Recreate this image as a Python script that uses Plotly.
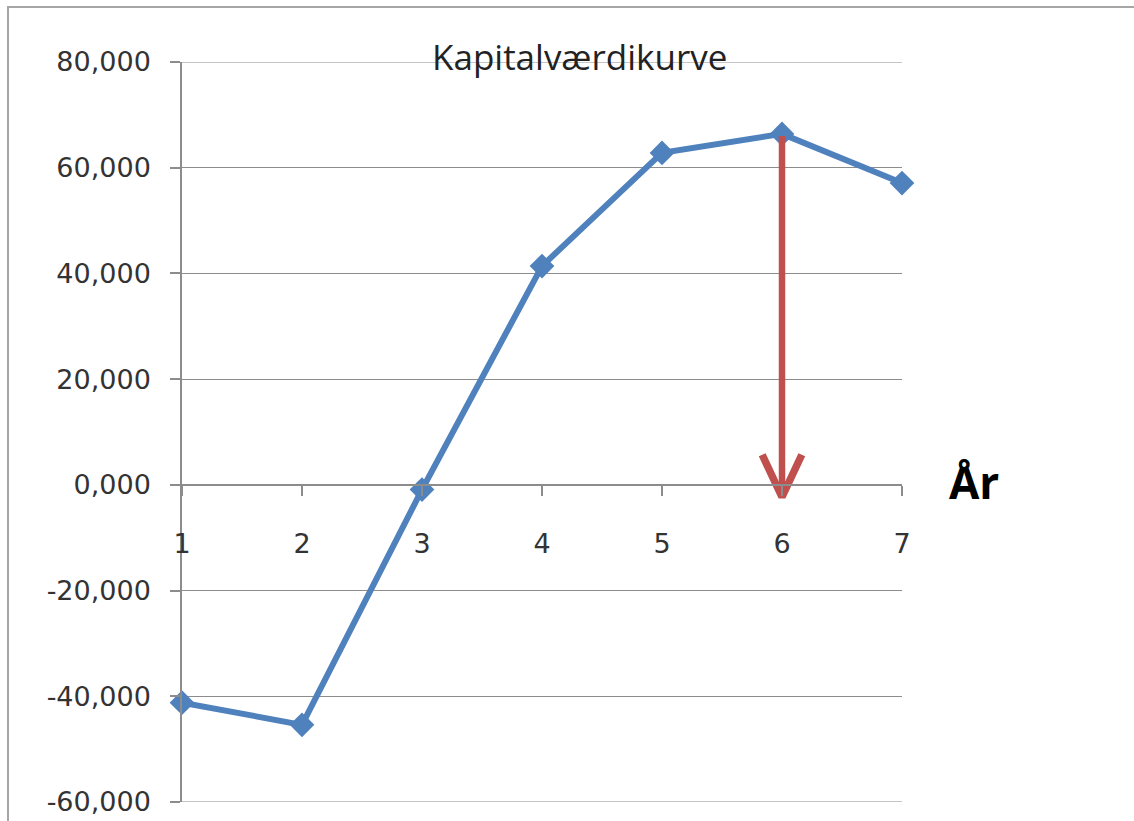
import plotly.graph_objects as go

# Capital value per year
years = [1, 2, 3, 4, 5, 6, 7]
capital_value = [-41200, -45400, -900, 41400, 62800, 66400, 57100]

y_ticks = [-60000, -40000, -20000, 0, 20000, 40000, 60000, 80000]
y_tick_labels = ["-60,000", "-40,000", "-20,000", "0,000", "20,000", "40,000", "60,000", "80,000"]

# Arrow marking the optimal year
arrow_year = 6
arrow_top = 66000
arrow_tip = -2300
head_dx = 0.165
head_dy = 8000

y_min, y_max = -60000, 80000

blue = "#4F81BD"
red = "#C0504D"
grid = "#8C8C8C"
font_family = "DejaVu Sans"

fig = go.Figure()

fig.add_trace(go.Scatter(
    x=years, y=capital_value, mode="lines+markers",
    line=dict(color=blue, width=6),
    marker=dict(symbol="diamond", size=19, color=blue),
    cliponaxis=False, showlegend=False, hoverinfo="x+y",
))

# Arrow shaft
fig.add_trace(go.Scatter(
    x=[arrow_year, arrow_year], y=[arrow_top, arrow_tip], mode="lines",
    line=dict(color=red, width=6.5), showlegend=False, hoverinfo="skip",
))
# Arrow head (open chevron)
fig.add_trace(go.Scatter(
    x=[arrow_year - head_dx, arrow_year, arrow_year + head_dx],
    y=[arrow_tip + head_dy, arrow_tip, arrow_tip + head_dy], mode="lines",
    line=dict(color=red, width=7.5), showlegend=False, hoverinfo="skip",
))

# Gridlines at the ends of the value range
edge_lines = [
    dict(type="line", xref="x domain", yref="y", x0=0, x1=1, y0=v, y1=v,
         line=dict(color=grid, width=1.2), layer="below")
    for v in (y_min, y_max)
]

fig.update_layout(
    template="none",
    width=1134, height=821,
    margin=dict(l=182, r=232, t=62, b=19, autoexpand=False),
    paper_bgcolor="white", plot_bgcolor="white",
    font=dict(family=font_family, color="#222222"),
    xaxis=dict(
        range=[1, 7], tickvals=years, ticktext=[str(v) for v in years],
        showgrid=False, zeroline=False, automargin=False,
        showline=True, linecolor=grid, linewidth=1.5,
        ticks="outside", ticklen=10, tickcolor=grid, tickwidth=1.5,
        anchor="free", position=(0 - y_min) / (y_max - y_min),
        ticklabelstandoff=25,
        tickfont=dict(size=27, family=font_family, color="#333333"),
    ),
    yaxis=dict(
        range=[y_min, y_max], tickvals=y_ticks, ticktext=y_tick_labels,
        showgrid=True, gridcolor=grid, gridwidth=1.2,
        zeroline=False, automargin=False,
        showline=True, linecolor=grid, linewidth=1.5,
        ticks="outside", ticklen=10, tickcolor=grid, tickwidth=1.5,
        ticklabelstandoff=14,
        tickfont=dict(size=27, family=font_family, color="#333333"),
    ),
    shapes=[
        # chart border
        dict(type="rect", xref="paper", yref="paper",
             x0=(8 - 182) / 720, x1=1.5, y0=-0.2, y1=1 + (62 - 7) / 740,
             line=dict(color="#A6A6A6", width=2), fillcolor="rgba(0,0,0,0)", layer="below"),
    ] + edge_lines,
    annotations=[
        dict(text="Kapitalværdikurve", xref="paper", yref="paper",
             x=(579 - 182) / 720, y=1 + (62 - 57) / 740, xanchor="center", yanchor="middle",
             showarrow=False, font=dict(family="Open Sans", size=35, color="#222222")),
        dict(text="<b>År</b>", xref="paper", yref="paper",
             x=(947 - 182) / 720, y=(802 - 482) / 740, xanchor="left", yanchor="middle",
             showarrow=False, font=dict(family="Open Sans", size=44, color="#000000")),
    ],
)

fig.write_html("out.html")
